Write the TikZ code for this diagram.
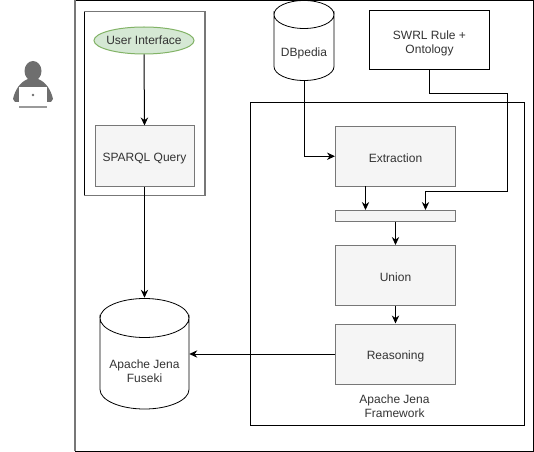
\documentclass[tikz,border=0pt]{standalone}
\usepackage{fontspec}
\setmainfont{Liberation Sans}
\usetikzlibrary{arrows.meta,shapes.geometric}
\definecolor{boxfill}{HTML}{F5F5F5}
\definecolor{boxline}{HTML}{777777}
\definecolor{txt}{HTML}{333333}
\definecolor{uifill}{HTML}{D5E8D4}
\definecolor{uiline}{HTML}{82B366}
\definecolor{icon}{HTML}{6E6E6E}
\tikzset{
 x=0.75pt,y=-0.75pt,
 lab/.style={font=\fontsize{9}{10.5}\selectfont,text=txt,align=center,inner sep=0pt},
 plainbox/.style={draw=black,line width=0.75pt,inner sep=0pt},
 grey/.style={draw=boxline,fill=boxfill,line width=0.75pt,inner sep=0pt},
 conn/.style={draw=black,line width=0.75pt,-{Stealth[length=6pt,width=5.5pt]}},
 cyl/.style={draw=black,line width=0.6pt,fill=white}
}
\newcommand{\boxat}[7]{\node[#1,minimum width=#5*0.75pt,minimum height=#6*0.75pt,label={[lab,yshift=-1.1pt]center:#7}] (#2) at (#3,#4) {};}
\newcommand{\nodesc}[1]{\raisebox{0pt}[\height][0pt]{#1}}
\begin{document}
\begin{tikzpicture}
\useasboundingbox (0,0) rectangle (534,452);
\draw[line width=0.75pt,draw=black] (75,0.5) -- (533,0.5) -- (533,451) -- (75,451);
\draw[line width=1pt,draw=boxline] (75,0) -- (75,451);
\boxat{plainbox}{ui}{144.5}{103.5}{120}{183}{}
\draw[line width=1pt,draw=boxline] (ui.north west) -- (ui.north east) (ui.south west) -- (ui.south east) (ui.north east) -- (ui.south east);
\node[ellipse,draw=uiline,fill=uifill,line width=0.75pt,lab,minimum width=100*0.75pt,minimum height=27*0.75pt] (user) at (144,40.5) {\makebox[0pt]{\raisebox{-0.3pt}{User Interface}}};
\boxat{grey}{sparql}{144.5}{156}{99}{60}{\nodesc{SPARQL Query}}
\boxat{plainbox}{frame}{387.25}{264}{273.5}{322}{}
\boxat{plainbox}{swrl}{429.5}{40.25}{120}{59.5}{SWRL Rule +\\\nodesc{Ontology}}
\boxat{grey}{extr}{395.5}{156.25}{120}{59.5}{Extraction}
\boxat{grey}{bar}{395.5}{215.5}{120}{11}{}
\boxat{grey}{union}{395.5}{275.5}{120}{60}{Union}
\boxat{grey}{reason}{395.5}{354}{120}{60}{\nodesc{Reasoning}}
\node[lab] (frametxt) at (394.5,406.5) {Apache Jena\\Framework};
% DBpedia cylinder
\node[minimum width=60*0.75pt,minimum height=80*0.75pt,inner sep=0pt] (db) at (304,40.5) {};
\draw[cyl] (274,14.5) arc[start angle=180,end angle=0,x radius=30,y radius=14]
 -- (334,66.5) arc[start angle=0,end angle=180,x radius=30,y radius=14] -- cycle;
\draw[cyl,fill=none] (274,14.5) arc[start angle=180,end angle=360,x radius=30,y radius=14];
\node[lab] (dbtxt) at (304,53.5) {DBpedia};
% Fuseki cylinder
\node[minimum width=89*0.75pt,minimum height=111*0.75pt,inner sep=0pt] (fus) at (144.5,353.5) {};
\draw[cyl] (100,318) arc[start angle=180,end angle=0,x radius=44.5,y radius=19.5]
 -- (189,389.5) arc[start angle=0,end angle=180,x radius=44.5,y radius=19.5] -- cycle;
\draw[cyl,fill=none] (100,318) arc[start angle=180,end angle=360,x radius=44.5,y radius=19.5];
\node[lab] (fustxt) at (144.5,371.5) {Apache Jena\\Fuseki};
% connectors
\draw[conn] (user.south) -- (sparql.north);
\draw[conn] (sparql.south) -- (fus.north);
\draw[conn] (db.south) |- (extr.west);
\coordinate (sb) at (507,94);
\coordinate (sc) at (507,191);
\coordinate (sd) at (425.5,191);
\coordinate (se) at (425.5,210);
\draw[conn] (swrl.south) |- (sb) -- (sc) -- (sd) -- (se);
\coordinate (ea) at (365.5,186);
\coordinate (eb) at (365.5,210);
\draw[conn] (ea) -- (eb);
\draw[conn] (bar.south) -- (union.north);
\draw[conn] (union.south) -- (reason.north);
\draw[conn] (reason.west) -- (fus.east |- reason.west);
% person icon
\fill[icon] (33,71) ellipse[x radius=8.5,y radius=10];
\fill[icon] (13,99) .. controls (15,90) and (20,82) .. (28,79) -- (38,79) .. controls (46,82) and (51,90) .. (53,99) -- (51,102) -- (15,102) -- cycle;
\fill[white] (19,87) rectangle (47,104);
\fill[icon] (33,95) circle[radius=1.4];
\fill[icon!70] (19,106) rectangle (47,108);
\end{tikzpicture}
\end{document}
